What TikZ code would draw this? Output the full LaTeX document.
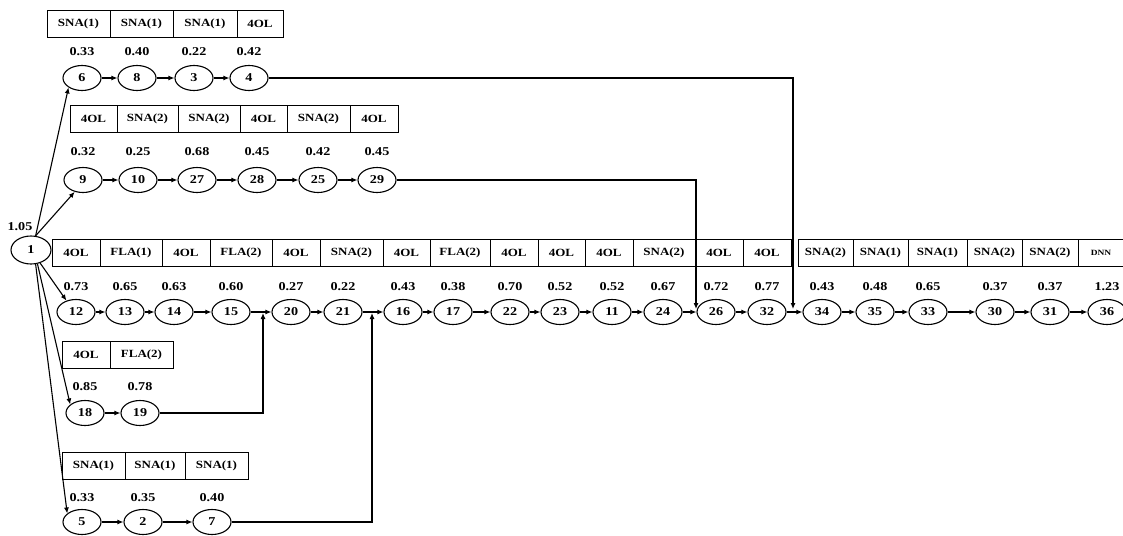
\documentclass[tikz,border=0pt]{standalone}
\usepackage{fontspec}
\setmainfont{Liberation Serif}[FakeStretch=1.18]
\usetikzlibrary{shapes.geometric,arrows.meta}
\tikzset{
 nd/.style={ellipse, draw, line width=1.1pt, minimum width=38pt, minimum height=25pt, inner sep=0pt, font=\fontsize{12}{12}\selectfont\bfseries},
 bx/.style={rectangle, draw, line width=1pt, minimum height=27pt, inner sep=0pt, font=\fontsize{11}{11}\selectfont\bfseries},
 val/.style={inner sep=0pt, font=\fontsize{12}{12}\selectfont\bfseries},
 arr/.style={line width=1.1pt, -{Latex[length=6pt,width=5pt]}},
}
\begin{document}
\begin{tikzpicture}[x=1pt,y=-1pt]
\useasboundingbox (0,0) rectangle (1123,535);
% node 1
\node[nd, minimum width=40pt, minimum height=28pt] (n1) at (31,250) {1};
\node[val] (v1) at (20,227) {1.05};
% top row
\foreach \a/\b/\t [count=\i] in {47/110/SNA(1),110/173/SNA(1),173/237/SNA(1),237/283/4OL}
  \node[bx, minimum width={(\b-\a)*1pt}] (ba\i) at ({(\a+\b)/2},24) {\t};
\foreach \n/\x/\v in {6/82/0.33,8/137/0.40,3/194/0.22,4/249/0.42}{
  \node[nd] (n\n) at (\x,78) {\n};
  \node[val] (v\n) at (\x,52) {\v};}
% second row
\foreach \a/\b/\t [count=\i] in {70/117/4OL,117/178/SNA(2),178/240/SNA(2),240/287/4OL,287/350/SNA(2),350/398/4OL}
  \node[bx, minimum width={(\b-\a)*1pt}] (bb\i) at ({(\a+\b)/2},119) {\t};
\foreach \n/\x/\v in {9/83/0.32,10/138/0.25,27/197/0.68,28/257/0.45,25/318/0.42,29/377/0.45}{
  \node[nd] (n\n) at (\x,180) {\n};
  \node[val] (v\n) at (\x,152) {\v};}
% main row
\foreach \a/\b/\t [count=\i] in {52/100/4OL,100/162/FLA(1),162/210/4OL,210/272/FLA(2),272/320/4OL,320/383/SNA(2),383/430/4OL,430/490/FLA(2),490/538/4OL,538/585/4OL,585/633/4OL,633/695/SNA(2),695/743/4OL,743/791/4OL,798/853/SNA(2),853/908/SNA(1),908/967/SNA(1),967/1022/SNA(2),1022/1078/SNA(2)}
  \node[bx, minimum width={(\b-\a)*1pt}] (bc\i) at ({(\a+\b)/2},253) {\t};
\node[bx, minimum width=46pt, font=\fontsize{8}{8}\selectfont\bfseries] (bc20) at (1101,253) {DNN};
\foreach \n/\x/\v in {12/76/0.73,13/125/0.65,14/174/0.63,15/231/0.60,20/291/0.27,21/343/0.22,16/403/0.43,17/453/0.38,22/510/0.70,23/560/0.52,11/612/0.52,24/663/0.67,26/716/0.72,32/767/0.77,34/822/0.43,35/875/0.48,33/928/0.65,30/995/0.37,31/1050/0.37,36/1107/1.23}{
  \node[nd] (n\n) at (\x,312) {\n};
  \node[val] (v\n) at (\x,287) {\v};}
% row 18
\foreach \a/\b/\t [count=\i] in {62/110/4OL,110/173/FLA(2)}
  \node[bx, minimum width={(\b-\a)*1pt}] (bd\i) at ({(\a+\b)/2},355) {\t};
\foreach \n/\x/\v in {18/85/0.85,19/140/0.78}{
  \node[nd] (n\n) at (\x,413) {\n};
  \node[val] (v\n) at (\x,387) {\v};}
% row 5
\foreach \a/\b/\t [count=\i] in {62/125/SNA(1),125/185/SNA(1),185/248/SNA(1)}
  \node[bx, minimum width={(\b-\a)*1pt}] (be\i) at ({(\a+\b)/2},466) {\t};
\foreach \n/\x/\v in {5/82/0.33,2/143/0.35,7/212/0.40}{
  \node[nd] (n\n) at (\x,522) {\n};
  \node[val] (v\n) at (\x,498) {\v};}
% chains
\foreach \p/\q in {6/8,8/3,3/4,9/10,10/27,27/28,28/25,25/29,12/13,13/14,14/15,15/20,20/21,21/16,16/17,17/22,22/23,23/11,11/24,24/26,26/32,32/34,34/35,35/33,33/30,30/31,31/36,18/19,5/2,2/7}
  \draw[arr] (n\p) -- (n\q);
% from node 1
\draw[arr] (n1.72) -- (n6.215);
\draw[arr] (n1.72) -- (n9.235);
\draw[arr] (n1.-55) -- (n12.130);
\draw[arr] (n1.-65) -- (n18.150);
\draw[arr] (n1.-72) -- (n5.150);
% joins
\coordinate (j4) at (793,309);
\coordinate (j29) at (696,309);
\coordinate (j19) at (263,313);
\coordinate (j7) at (372,313);
\draw[arr] (n4.east) -| (j4);
\draw[arr] (n29.east) -| (j29);
\draw[arr] (n19.east) -| (j19);
\draw[arr] (n7.east) -| (j7);
\end{tikzpicture}
\end{document}
